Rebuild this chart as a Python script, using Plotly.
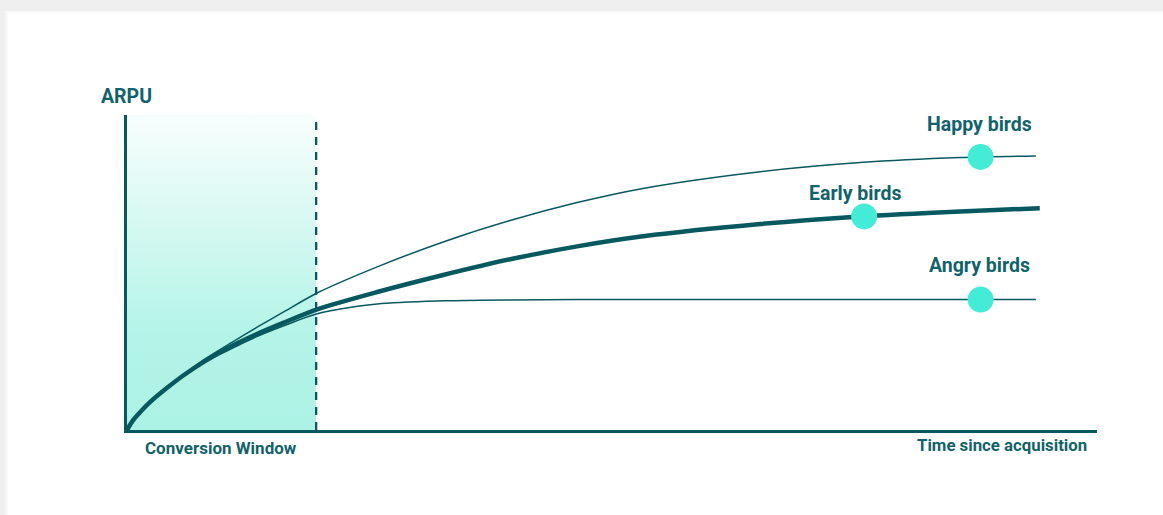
import plotly.graph_objects as go

# ---- data (x: time since acquisition, y: ARPU, arbitrary units 0-100) ----
time_pts = [0, 0.6, 1.3, 2.4, 4.1, 5.8, 8.0, 10.9, 13.5, 16.1, 19.6, 25.8, 32.6, 39.5, 46.4, 53.2, 65.3, 75.6, 85.9, 93.7]
early_time_pts = [0, 0.6, 1.3, 2.4, 4.1, 5.8, 8.0, 10.9, 13.5, 16.1, 19.6, 25.8, 32.6, 39.5, 46.4, 53.2, 65.3, 75.6, 85.9, 94.1]
early_birds = [0, 3.0, 5.5, 8.9, 13.3, 17.3, 21.8, 26.8, 30.6, 34.0, 38.3, 43.8, 49.2, 54.2, 58.3, 61.5, 65.4, 67.8, 69.4, 70.4]
happy_birds = [0, 3.0, 5.5, 8.9, 13.3, 17.5, 22.5, 28.0, 32.8, 37.4, 43.5, 51.8, 59.7, 66.5, 72.2, 76.7, 82.0, 84.9, 86.5, 87.0]
angry_birds = [0, 3.0, 5.5, 8.8, 13.1, 17.1, 21.6, 26.0, 29.8, 33.0, 36.9, 40.0, 41.0, 41.3, 41.4, 41.4, 41.4, 41.4, 41.4, 41.4]

conversion_window_end = 19.5
x_max, y_max = 100, 100

markers_x = [88.0, 76.0, 88.0]
markers_y = [86.7, 67.8, 41.4]

label_names = ["Happy birds", "Early birds", "Angry birds"]
label_x = [87.9, 75.0, 87.9]
label_y = [97.1, 75.2, 52.1]

LINE = "#07595f"
TEXT = "#11626a"
DOT = "#42ecd7"
FONT = "Roboto"

fig = go.Figure()

# conversion window gradient area
fig.add_trace(go.Scatter(
    x=[0, 0, conversion_window_end, conversion_window_end, 0],
    y=[0, y_max, y_max, 0, 0],
    mode="lines", line=dict(width=0), fill="toself",
    fillgradient=dict(type="vertical",
                      colorscale=[[0, "#acf2e4"], [0.3, "#b3f4e7"], [0.65, "#d6f8f1"], [1, "#f8fefd"]]),
    hoverinfo="skip", showlegend=False))

fig.add_trace(go.Scatter(x=time_pts, y=happy_birds, mode="lines",
                         line=dict(color=LINE, width=1.5, shape="spline", smoothing=0.8), showlegend=False))
fig.add_trace(go.Scatter(x=time_pts, y=angry_birds, mode="lines",
                         line=dict(color=LINE, width=1.5, shape="spline", smoothing=0.8), showlegend=False))
fig.add_trace(go.Scatter(x=early_time_pts, y=early_birds, mode="lines",
                         line=dict(color=LINE, width=4.5, shape="spline", smoothing=0.8), showlegend=False))

fig.add_trace(go.Scatter(x=markers_x, y=markers_y, mode="markers",
                         marker=dict(color=DOT, size=26, line=dict(width=0)), showlegend=False))

# dashed conversion window boundary
fig.add_shape(type="line", x0=conversion_window_end, x1=conversion_window_end, y0=0, y1=y_max,
              xref="x", yref="y", line=dict(color=LINE, width=2.3, dash="8px,7px"), layer="above")

# white card + soft shadow
fig.add_shape(type="rect", xref="paper", yref="paper", x0=-0.126, x1=1.2, y0=-0.4, y1=1.33,
              fillcolor="#f7f7f7", line=dict(width=0), layer="below")
fig.add_shape(type="rect", xref="paper", yref="paper", x0=-0.1235, x1=1.2, y0=-0.4, y1=1.326,
              fillcolor="#fcfcfc", line=dict(width=0), layer="below")
fig.add_shape(type="rect", xref="paper", yref="paper", x0=-0.1227, x1=1.2, y0=-0.4, y1=1.3238,
              fillcolor="white", line=dict(width=0), layer="below")

anns = []
for name, lx, ly in zip(label_names, label_x, label_y):
    anns.append(dict(x=lx, y=ly, xref="x", yref="y", text=name, showarrow=False,
                     xanchor="center", yanchor="middle",
                     font=dict(family=FONT, size=19.5, color=TEXT, weight="bold")))
anns.append(dict(x=-0.001, y=1.060, xref="paper", yref="paper", text="ARPU", showarrow=False,
                 xanchor="center", yanchor="middle",
                 font=dict(family=FONT, size=19.5, color=TEXT, weight="bold")))
anns.append(dict(x=0.0969, y=-0.0571, xref="paper", yref="paper", text="Conversion Window", showarrow=False,
                 xanchor="center", yanchor="middle",
                 font=dict(family=FONT, size=17, color=TEXT, weight="bold")))
anns.append(dict(x=0.9918, y=-0.0476, xref="paper", yref="paper", text="Time since acquisition", showarrow=False,
                 xanchor="right", yanchor="middle",
                 font=dict(family=FONT, size=16.8, color=TEXT, weight="bold")))

fig.update_layout(
    width=1163, height=515,
    margin=dict(l=127, r=66, t=115, b=85),
    paper_bgcolor="#efefef", plot_bgcolor="white",
    annotations=anns,
    xaxis=dict(range=[0, x_max], showgrid=False, zeroline=False, showticklabels=False, ticks="",
               showline=True, linecolor=LINE, linewidth=3),
    yaxis=dict(range=[0, y_max], showgrid=False, zeroline=False, showticklabels=False, ticks="",
               showline=True, linecolor=LINE, linewidth=2.5),
    hovermode=False,
)

fig.write_html("out.html", config={"displayModeBar": False})
